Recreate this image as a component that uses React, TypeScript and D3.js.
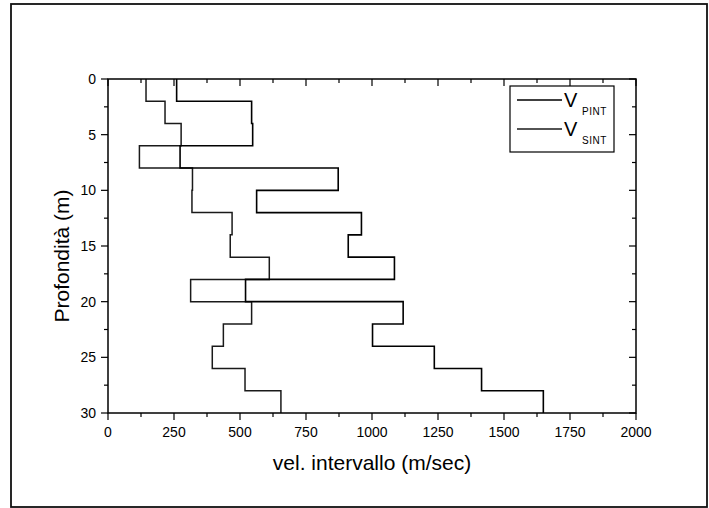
import React from "react";
import * as d3 from "d3";

// Layer top depths (m); last layer ends at maxDepth
const layerTops = [0, 2, 4, 6, 8, 10, 12, 14, 16, 18, 20, 22, 24, 26, 28];
const maxDepth = 30;
// Interval velocities (m/sec)
const vPint = [260, 544, 548, 273, 872, 563, 960, 910, 1085, 521, 1118, 1002, 1236, 1415, 1649];
const vSint = [144, 216, 277, 119, 320, 318, 470, 463, 611, 313, 544, 437, 395, 519, 655];

const xTicks = [0, 250, 500, 750, 1000, 1250, 1500, 1750, 2000];
const xMinor = [125, 375, 625, 875, 1125, 1375, 1625, 1875];
const yTicks = [0, 5, 10, 15, 20, 25, 30];
const yMinor = [2.5, 7.5, 12.5, 17.5, 22.5, 27.5];

const xTitle = "vel. intervallo (m/sec)";
const yTitle = "Profondità (m)";
const seriesNames = [
  { v: "V", sub: "PINT" },
  { v: "V", sub: "SINT" },
];

export default function App() {
  const L = 108, R = 636, T = 79, B = 413;
  const x = d3.scaleLinear().domain([0, 2000]).range([L, R]);
  const y = d3.scaleLinear().domain([0, 30]).range([T, B]);

  const mkPts = (vals: number[]) => {
    const pts: [number, number][] = vals.map((v, i) => [v, layerTops[i]]);
    pts.push([vals[vals.length - 1], maxDepth]);
    return pts;
  };
  const line = d3
    .line<[number, number]>()
    .x((d) => x(d[0]))
    .y((d) => y(d[1]))
    .curve(d3.curveStepBefore);

  const font = "Arial, 'Liberation Sans', sans-serif";
  const maj = 7, mnr = 4;

  return (
    <svg
      width={709}
      height={508}
      style={{ position: "absolute", left: 0, top: 0, background: "#fff" }}
      fontFamily={font}
    >
      <rect x={0} y={0} width={709} height={508} fill="#fff" />
      <rect x={11} y={4} width={696} height={503} fill="none" stroke="#111" strokeWidth={1.8} />

      {/* series */}
      <path d={line(mkPts(vSint)) || ""} fill="none" stroke="#1a1a1a" strokeWidth={1.5} />
      <path d={line(mkPts(vPint)) || ""} fill="none" stroke="#000" strokeWidth={1.6} />

      {/* axes frame */}
      <rect x={L} y={T} width={R - L} height={B - T} fill="none" stroke="#000" strokeWidth={1.5} />

      {/* x ticks */}
      {xTicks.map((t) => (
        <g key={"xt" + t}>
          <line x1={x(t)} x2={x(t)} y1={B} y2={B + maj} stroke="#000" strokeWidth={1.2} />
          <line x1={x(t)} x2={x(t)} y1={T} y2={T + maj} stroke="#000" strokeWidth={1.2} />
          <text x={x(t)} y={437} fontSize={14} textAnchor="middle" fill="#000">
            {t}
          </text>
        </g>
      ))}
      {xMinor.map((t) => (
        <g key={"xm" + t}>
          <line x1={x(t)} x2={x(t)} y1={B} y2={B + mnr} stroke="#000" strokeWidth={1.2} />
          <line x1={x(t)} x2={x(t)} y1={T} y2={T + mnr} stroke="#000" strokeWidth={1.2} />
        </g>
      ))}
      {/* y ticks */}
      {yTicks.map((t) => (
        <g key={"yt" + t}>
          <line x1={L - maj} x2={L} y1={y(t)} y2={y(t)} stroke="#000" strokeWidth={1.2} />
          <line x1={R - maj} x2={R} y1={y(t)} y2={y(t)} stroke="#000" strokeWidth={1.2} />
          <text x={96} y={y(t) + 5} fontSize={14} textAnchor="end" fill="#000">
            {t}
          </text>
        </g>
      ))}
      {yMinor.map((t) => (
        <g key={"ym" + t}>
          <line x1={L - mnr} x2={L} y1={y(t)} y2={y(t)} stroke="#000" strokeWidth={1.2} />
          <line x1={R - mnr} x2={R} y1={y(t)} y2={y(t)} stroke="#000" strokeWidth={1.2} />
        </g>
      ))}

      {/* titles */}
      <text x={(L + R) / 2} y={470} fontSize={21} textAnchor="middle" fill="#000">
        {xTitle}
      </text>
      <text
        transform={`translate(69, ${(T + B) / 2 + 10}) rotate(-90)`}
        fontSize={21}
        textAnchor="middle"
        fill="#000"
      >
        {yTitle}
      </text>

      {/* legend */}
      <rect x={510} y={86} width={104} height={66} fill="#fff" stroke="#000" strokeWidth={1.2} />
      {seriesNames.map((s, i) => {
        const ly = 100 + i * 29;
        return (
          <g key={s.sub}>
            <line
              x1={517}
              x2={562}
              y1={ly}
              y2={ly}
              stroke={i === 0 ? "#000" : "#1a1a1a"}
              strokeWidth={i === 0 ? 1.6 : 1.5}
            />
            <text x={564} y={ly + 7} fontSize={20} fill="#000">
              {s.v}
            </text>
            <text x={582} y={ly + 15} fontSize={10} fill="#000" letterSpacing={0.5}>
              {s.sub}
            </text>
          </g>
        );
      })}
    </svg>
  );
}
